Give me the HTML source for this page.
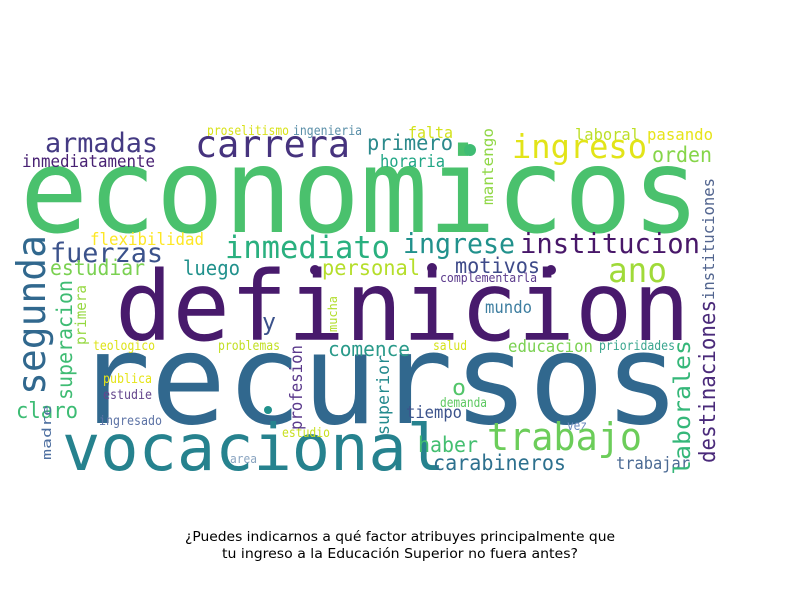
<!DOCTYPE html>
<html><head><meta charset="utf-8"><style>
html,body{margin:0;padding:0;background:#fff;}
svg{display:block;}
</style></head><body>
<svg id="cloud" width="800" height="600" viewBox="0 0 800 600" xmlns="http://www.w3.org/2000/svg">
<rect width="800" height="600" fill="#fff"/>
<g id="words" font-family="'DejaVu Sans Mono', 'Liberation Mono', monospace"></g>
<text x="400" y="541" text-anchor="middle" font-family="'DejaVu Sans','Liberation Sans',sans-serif" font-size="13" textLength="430" lengthAdjust="spacingAndGlyphs">¿Puedes indicarnos a qué factor atribuyes principalmente que</text>
<text x="400" y="558" text-anchor="middle" font-family="'DejaVu Sans','Liberation Sans',sans-serif" font-size="13" textLength="356" lengthAdjust="spacingAndGlyphs">tu ingreso a la Educación Superior no fuera antes?</text>
</svg>
<script>
// word cloud data: text, x, baseline y, font size, length, colour, rotation
const words = ["economicos","definicion","recursos","vocacional","proselitismo","ingenieria","armadas","carrera","inmediatamente","primero","horaria","flexibilidad","fuerzas","inmediato","estudiar","luego","personal","claro","teologico","problemas","publica","estudie","ingresado","y","comence","estudio","area","falta","ingreso","laboral","pasando","orden","ingrese","institucion","motivos","ano","complementarla","mundo","educacion","salud","prioridades","o","demanda","tiempo","vez","haber","trabajo","carabineros","trabajar","segunda","superacion","primera","madre","mucha","profesion","superior","mantengo","instituciones","laborales","destinaciones"];
const xs = [20,115,75,62,207,293,45,195,22,367,380,90,50,225,50,183,322,16,93,218,103,103,99,262,328,282,230,408,512,575,647,652,403,520,455,608,440,485,508,433,599,452,440,406,567,418,487,433,616,45,72,86,51,337,302,389,493,714,690,715];
const ys = [232,340,423,470,135,135,152,157,167,150,167,245,262,258,275,275,275,418,350,350,383,399,425,330,356,437,463,138,158,140,140,162,253,253,273,282,282,313,352,350,350,395,407,418,430,452,450,470,469,395,400,345,460,332,430,435,205,300,475,463];
const sizes = [118,96,126,64,13,13,27,37,17,21,17,17,27,31,21,20,21,22,13,13,13,13,13,24,20,13,12,16,33,16,16,21,28,28,21,34,12.5,17,17,13,13,22,13,17,13,21,38,21,16.5,39,21,15,12,12,17,17,15,16,23,22];
const lens = [680,575,605,383,82,69,113,155,133,86,65,114,113,165,95,57,98,62,62,62,49,49,63,14,82,48,27,45,135,65,66,60,112,180,85,59,97,47,85,34,76,14,47,56,20,60,155,133,74,160,120,60,55,36,85,80,77,122,135,163];
const colors = ["#4ac16d","#481a6c","#31688e","#26828e","#d8e219","#5a8fa8","#443a83","#46337e","#482173","#2c8a8c","#21a685","#fde725","#3b528b","#2ab07f","#7ad151","#21918c","#b5de2b","#3dbc74","#dde318","#c2df23","#e5e419","#65468d","#5e74a6","#3b528b","#2a9a8a","#c8e020","#8aa4c0","#d2e21b","#e2e418","#bddf26","#e7e419","#86d549","#21918c","#481769","#3e4a89","#a0da39","#5b3a8c","#3e7ea0","#7ad151","#d5e21a","#3aa68f","#52c569","#5ec962","#3b528b","#6d8bbf","#44bf70","#6ccd5a","#2d708e","#4b6a94","#31688e","#3fbc73","#95d840","#4e6fa0","#b2dd2c","#5b3a8c","#238a8d","#8fd744","#52658f","#35b779","#4a2a7a"];
const rots = [0,0,0,0,0,0,0,0,0,0,0,0,0,0,0,0,0,0,0,0,0,0,0,0,0,0,0,0,0,0,0,0,0,0,0,0,0,0,0,0,0,0,0,0,0,0,0,0,0,-90,-90,-90,-90,-90,-90,-90,-90,-90,-90,-90];
// separator dots
const dotX = [470,315,432,551,268];
const dotY = [150,270,268,270,410];
const dotR = [6,5,5,5,4];
const dotC = ["#3fbc73","#481a6c","#481a6c","#481a6c","#21918c"];

const NS = "http://www.w3.org/2000/svg";
const g = document.getElementById("words");
words.forEach((w, i) => {
  const t = document.createElementNS(NS, "text");
  
  
  t.setAttribute("font-size", sizes[i]);
  t.setAttribute("fill", colors[i]);
  t.setAttribute("textLength", lens[i]);
  t.setAttribute("lengthAdjust", "spacingAndGlyphs");
  if (rots[i]) {
    t.setAttribute("transform", "translate(" + xs[i] + "," + ys[i] + ") rotate(" + rots[i] + ")");
  } else {
    t.setAttribute("x", xs[i]);
    t.setAttribute("y", ys[i]);
  }
  t.textContent = w;
  g.appendChild(t);
});
dotX.forEach((x, i) => {
  const c = document.createElementNS(NS, "circle");
  
  
  c.setAttribute("cx", x);
  c.setAttribute("cy", dotY[i]);
  c.setAttribute("r", dotR[i]);
  c.setAttribute("fill", dotC[i]);
  g.appendChild(c);
});
</script>
</body></html>
